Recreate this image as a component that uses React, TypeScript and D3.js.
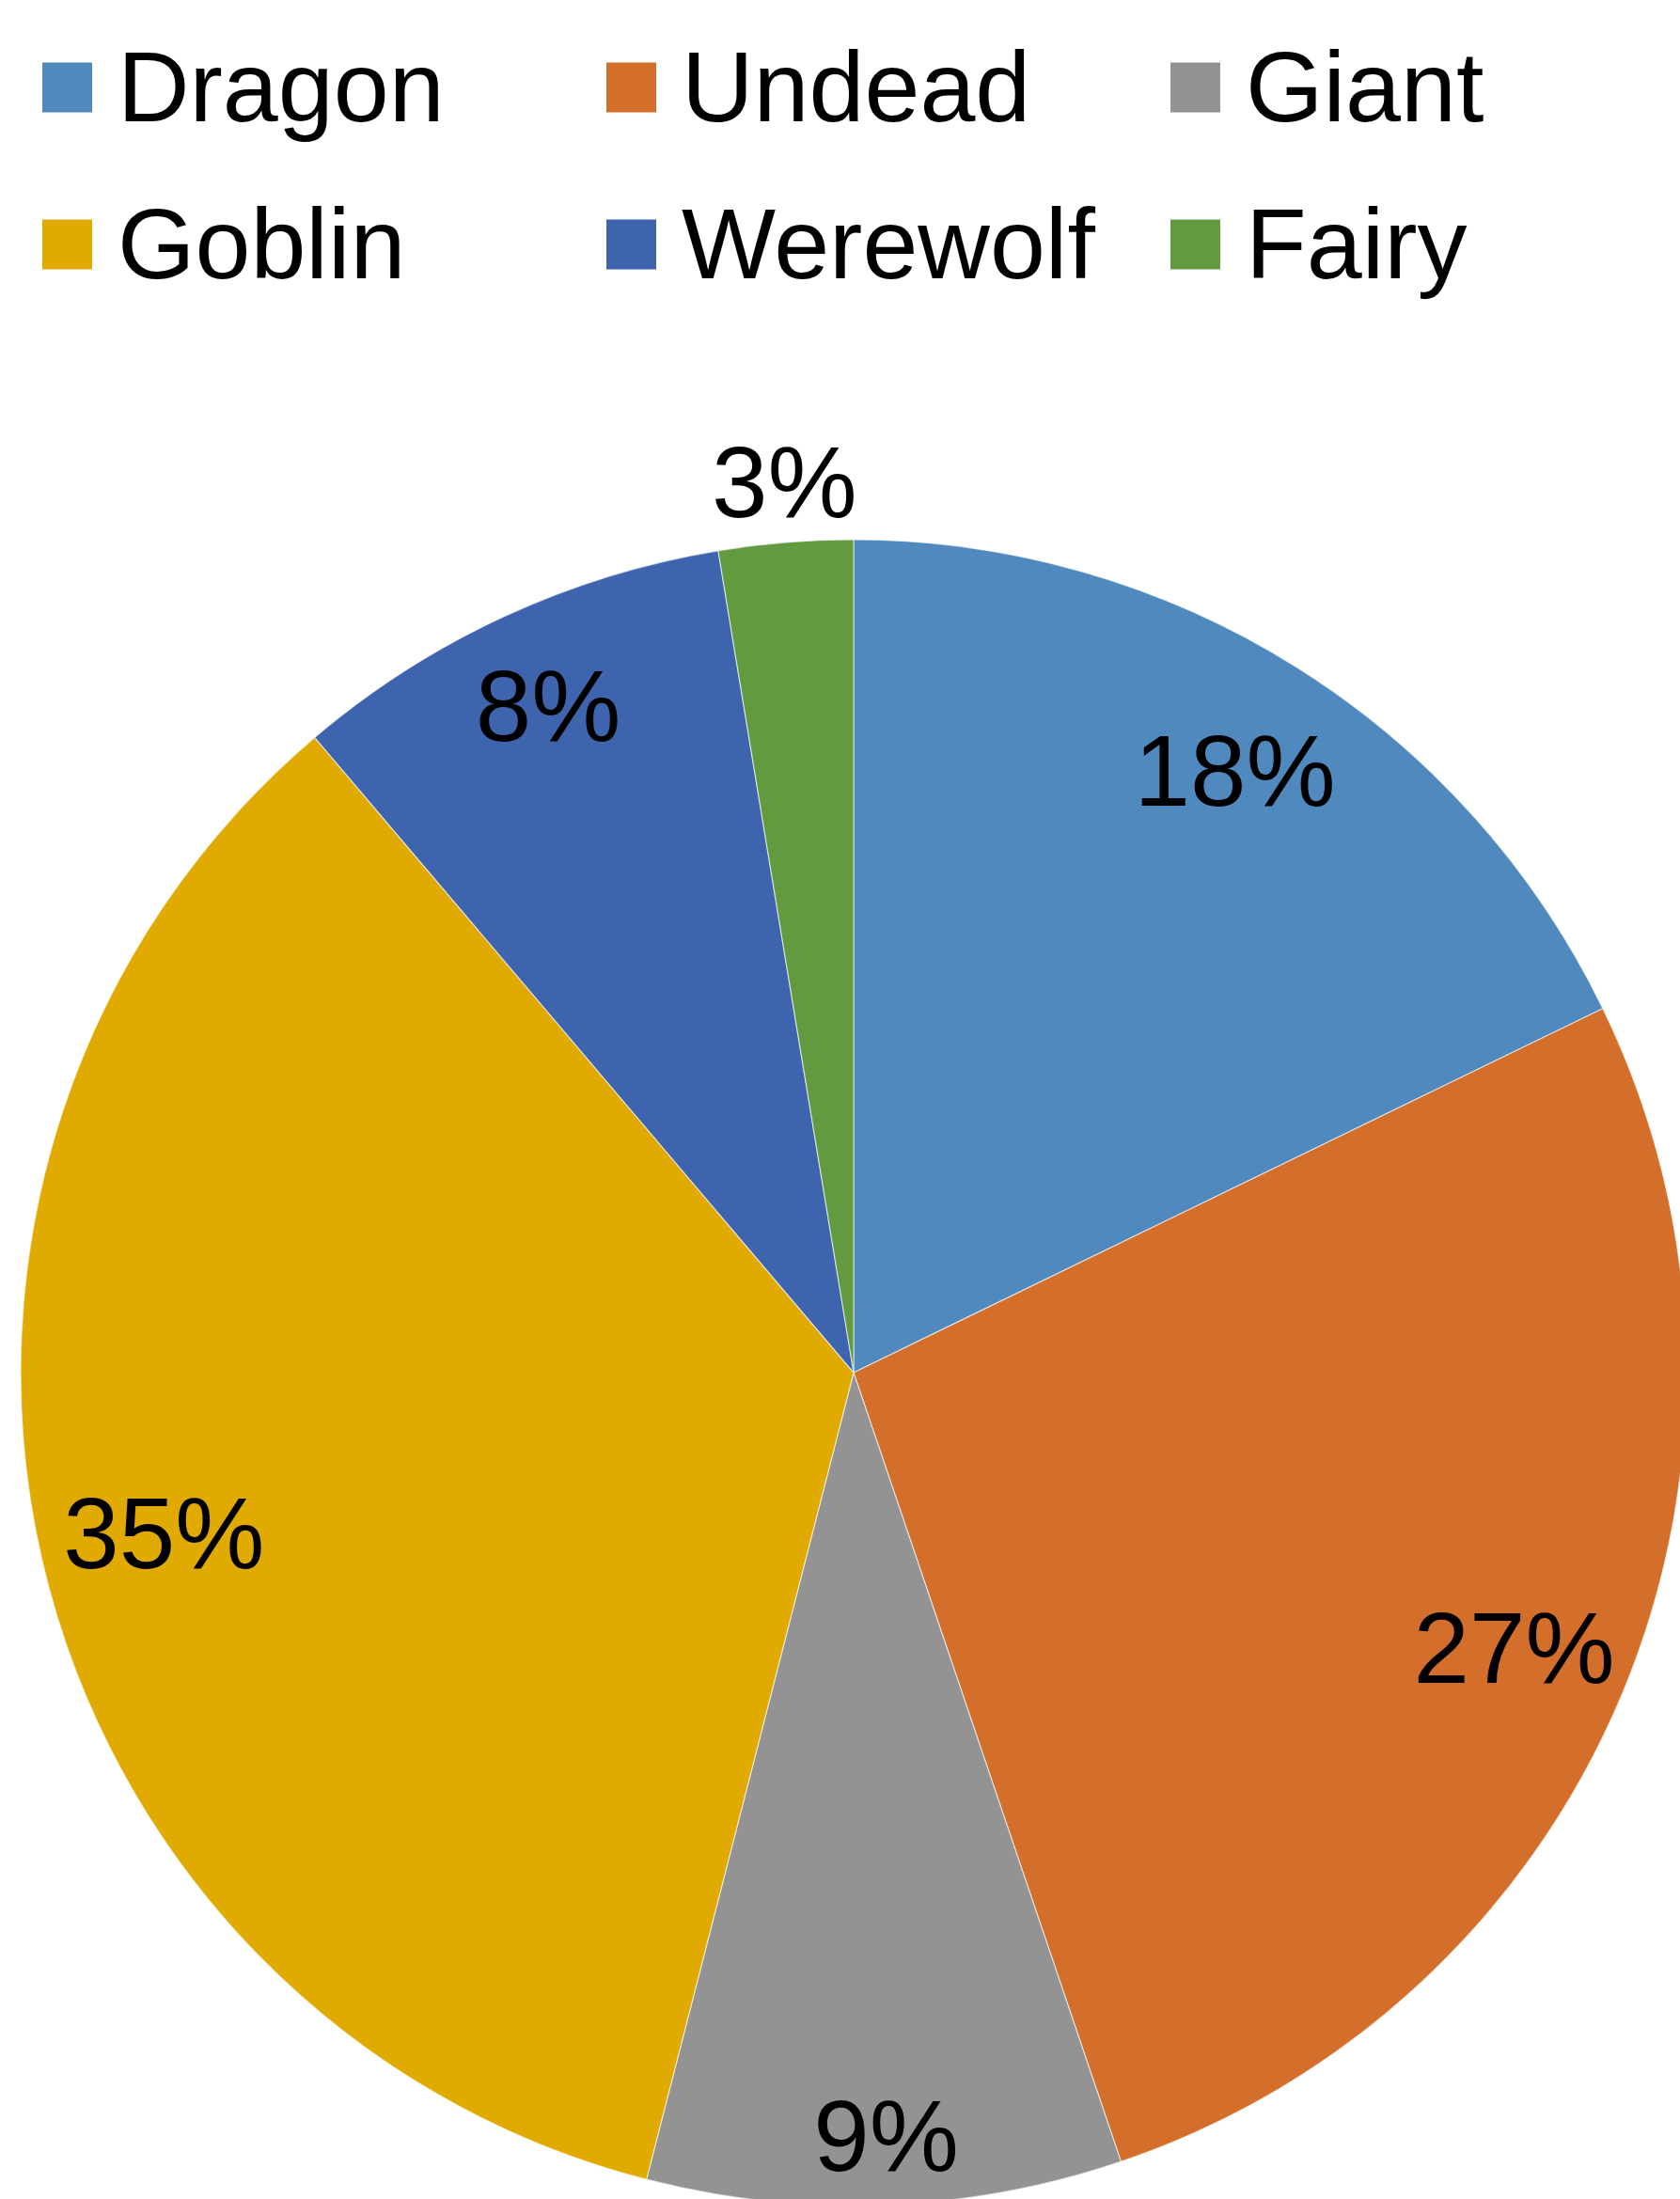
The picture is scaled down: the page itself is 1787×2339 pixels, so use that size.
import React, { useEffect, useRef } from 'react'
import * as d3 from 'd3'

// slices, clockwise from 12 o'clock
const categories = ['Dragon', 'Undead', 'Giant', 'Goblin', 'Werewolf', 'Fairy']
const shares = [17.8, 27.0, 9.2, 34.8, 8.6, 2.6]
const pctLabels = ['18%', '27%', '9%', '35%', '8%', '3%']
const colors = ['#4F89BD', '#D36E2B', '#939393', '#E1AA00', '#3D64AD', '#629A3F']

// legend order: two rows of three
const legendOrder = ['Dragon', 'Undead', 'Giant', 'Goblin', 'Werewolf', 'Fairy']

const W = 1787
const H = 2339
const FONT = "'Liberation Sans', Arial, sans-serif"

const App = () => {
  const svgRef = useRef<SVGSVGElement>(null)

  useEffect(() => {
    const svg = d3.select(svgRef.current)
    svg.selectAll('*').remove()

    const cx = 908
    const cy = 1460
    const r = 886

    const pie = d3.pie<number>().sort(null).value(d => d)
    const arcs = pie(shares)
    const arc = d3.arc<d3.PieArcDatum<number>>().innerRadius(0).outerRadius(r)

    const g = svg.append('g').attr('transform', `translate(${cx},${cy})`)

    g.selectAll('path')
      .data(arcs)
      .join('path')
      .attr('d', arc)
      .attr('fill', (_, i) => colors[i])
      .attr('stroke', '#ffffff')
      .attr('stroke-width', 1.2)
      .attr('stroke-opacity', 0.6)

    // label distance from centre (best-fit, last slice sits outside)
    const labelR = [757, 757, 811, 757, 783, 952]

    g.selectAll('text.pct')
      .data(arcs)
      .join('text')
      .attr('class', 'pct')
      .attr('transform', (d, i) => {
        const a = (d.startAngle + d.endAngle) / 2
        return `translate(${Math.sin(a) * labelR[i] + 4},${-Math.cos(a) * labelR[i]})`
      })
      .attr('text-anchor', 'middle')
      .attr('dy', '0.36em')
      .attr('font-family', FONT)
      .attr('font-size', 107)
      .attr('fill', '#000')
      .text((_, i) => pctLabels[i])

    // legend
    const colX = d3.scalePoint<number>().domain([0, 1, 2]).range([45, 1245])
    const rowY = d3.scalePoint<number>().domain([0, 1]).range([93, 260])
    const sq = 53

    const items = svg.append('g')
      .selectAll('g')
      .data(legendOrder)
      .join('g')
      .attr('transform', (_, i) => `translate(${colX(i % 3)},${rowY(Math.floor(i / 3))})`)

    items.append('rect')
      .attr('x', 0)
      .attr('y', -sq / 2)
      .attr('width', sq)
      .attr('height', sq)
      .attr('fill', d => colors[categories.indexOf(d)])

    items.append('text')
      .attr('x', sq + 27)
      .attr('y', 0)
      .attr('dy', '0.34em')
      .attr('font-family', FONT)
      .attr('font-size', 106)
      .attr('fill', '#000')
      .text(d => d)
  }, [])

  return (
    <svg
      ref={svgRef}
      width={W}
      height={H}
      style={{ position: 'absolute', left: 0, top: 0, background: '#fff', overflow: 'hidden' }}
    />
  )
}

export default App
